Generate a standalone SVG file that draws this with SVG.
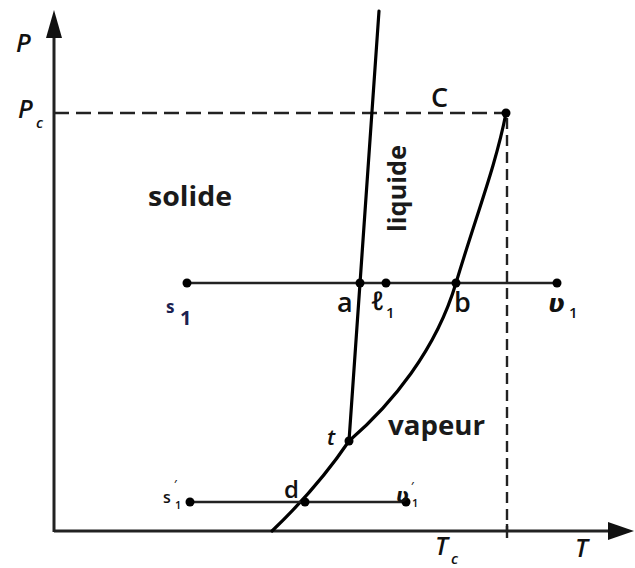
<svg xmlns="http://www.w3.org/2000/svg" width="635" height="568" viewBox="0 0 635 568">
<style>
.axis{stroke:#222;stroke-width:3;fill:none}
.curve{stroke:#000;stroke-width:3.2;fill:none;stroke-linecap:round}
.iso{stroke:#222;stroke-width:2.6;fill:none}
.dash{stroke:#222;stroke-width:2.6;fill:none;stroke-dasharray:15,7}
.dashdot{stroke:#222;stroke-width:2.4;fill:none;stroke-dasharray:11,6}
.dot{fill:#000}
.lab{font-family:"Open Sans","DejaVu Sans",sans-serif;font-style:italic;font-weight:600;fill:#111}
.up{font-family:"Open Sans","DejaVu Sans",sans-serif;font-weight:600;fill:#111}
.word{font-family:"Open Sans","DejaVu Sans",sans-serif;font-weight:700;fill:#1a1a1a}
.s1{font-family:"Open Sans","DejaVu Sans",sans-serif;font-weight:700;fill:#1c2150}
</style>
<g id="axes">
<path class="axis" d="M54,532 V36"/>
<path class="axis" d="M54,531 H612"/>
<polygon points="54,10 46,38 62,38" fill="#111"/>
<polygon points="634,531 608,522 608,540" fill="#111"/>
<path d="M507,524 V538" stroke="#222" stroke-width="2.4"/>
</g>
<g id="connectors">
<path class="dash" d="M54,113 H506"/>
<path class="dashdot" d="M507,118 V531"/>
<path class="curve" d="M379,11 L349,441"/>
<path class="curve" d="M349,441 C392,404 436,350 456,283 S496,165 506,113"/>
<path class="curve" d="M272,531 Q318,487 349,441"/>
<path class="iso" d="M187,283 H557"/>
<path class="iso" d="M190,502 H406"/>
</g>
<g id="points">
<circle class="dot" cx="506" cy="113" r="4.5"/>
<circle class="dot" cx="187" cy="283" r="4.5"/>
<circle class="dot" cx="360" cy="283" r="4.5"/>
<circle class="dot" cx="386" cy="283" r="4.5"/>
<circle class="dot" cx="456" cy="283" r="4.5"/>
<circle class="dot" cx="557" cy="283" r="4.5"/>
<circle class="dot" cx="349" cy="441" r="4.5"/>
<circle class="dot" cx="190" cy="502" r="4.5"/>
<circle class="dot" cx="305" cy="502" r="4.5"/>
<circle class="dot" cx="406" cy="502" r="4.5"/>
</g>
<g id="labels">
<text class="lab" x="16" y="52" font-size="25" font-weight="700">P</text>
<text class="lab" x="18" y="118" font-size="25" font-weight="700">P</text>
<text class="lab" x="36" y="128" font-size="15">c</text>
<text class="up" x="431" y="107" font-size="27" font-weight="400">C</text>
<text class="word" x="148" y="206" font-size="26" textLength="84" lengthAdjust="spacingAndGlyphs">solide</text>
<text class="word" x="406" y="232" font-size="25" transform="rotate(-90 406 232)" textLength="87" lengthAdjust="spacingAndGlyphs">liquide</text>
<text class="word" x="388" y="435" font-size="26" textLength="97" lengthAdjust="spacingAndGlyphs">vapeur</text>
<text class="up" x="337" y="312" font-size="27">a</text>
<text class="lab" x="371" y="310" font-size="26">ℓ</text>
<text class="up" x="386" y="318" font-size="15">1</text>
<text class="up" x="454" y="312" font-size="27">b</text>
<text class="lab" x="548" y="312" font-size="25">ʋ</text>
<text class="up" x="569" y="318" font-size="15">1</text>
<text class="s1" x="166" y="313" font-size="17">s</text>
<text class="s1" x="180" y="325" font-size="20">1</text>
<text class="lab" x="327" y="445" font-size="22" font-style="normal">t</text>
<text class="up" x="284" y="498" font-size="24" font-weight="400">d</text>
<text class="up" x="163" y="503" font-size="16" font-weight="400">s</text>
<text class="up" x="174" y="488" font-size="11" font-weight="400">′</text>
<text class="up" x="175" y="509" font-size="11">1</text>
<text class="lab" x="396" y="502" font-size="19">ʋ</text>
<text class="up" x="411" y="490" font-size="11" font-weight="400">′</text>
<text class="up" x="412" y="507" font-size="11">1</text>
<text class="lab" x="435" y="555" font-size="25" font-weight="700">T</text>
<text class="lab" x="451" y="564" font-size="15">c</text>
<text class="lab" x="575" y="557" font-size="25" font-weight="700">T</text>
</g>
</svg>
